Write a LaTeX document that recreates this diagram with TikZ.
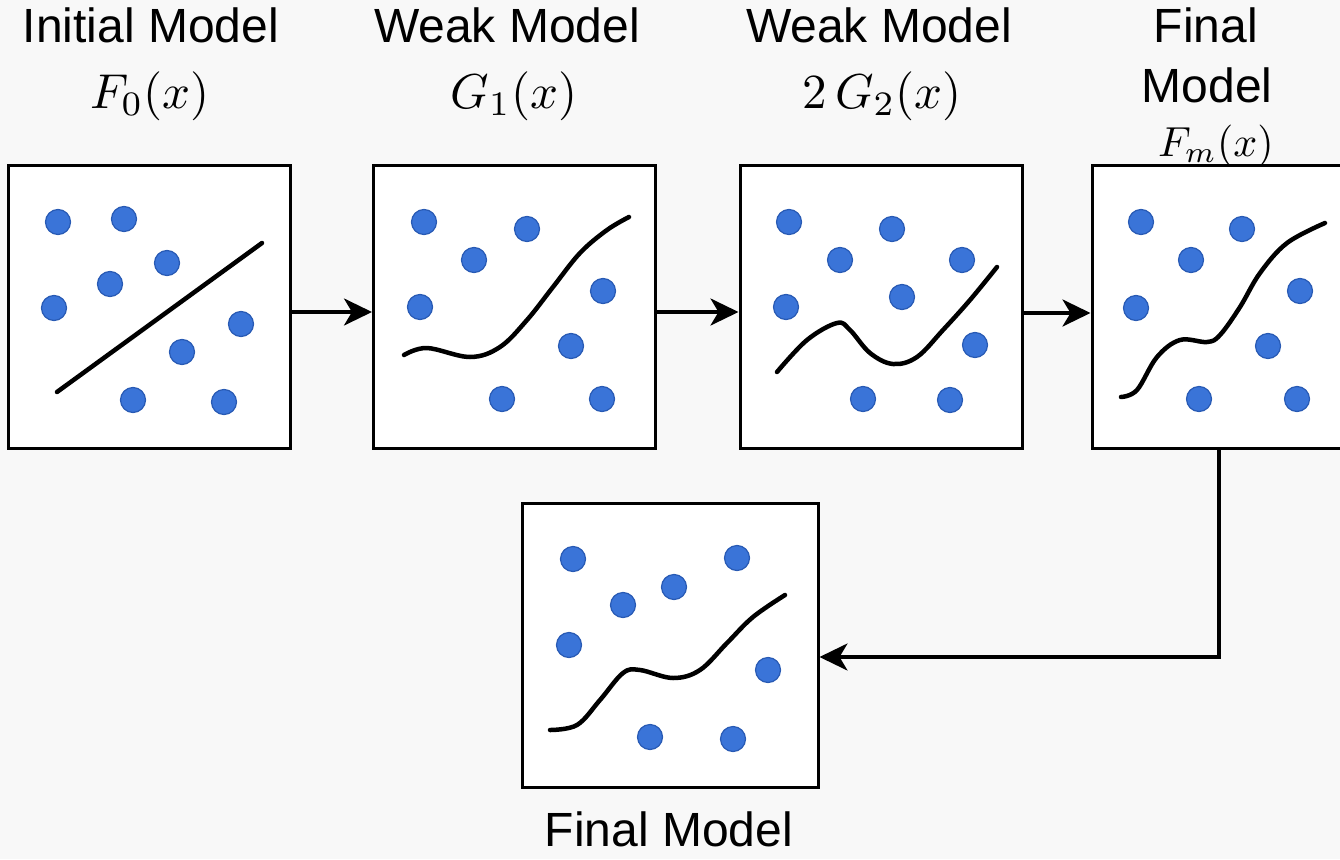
\documentclass[tikz,border=0pt]{standalone}
\usepackage{fontspec}
\newfontfamily\lab{Liberation Sans}
\usetikzlibrary{arrows.meta}
\definecolor{dotfill}{RGB}{58,116,216}
\definecolor{dotline}{RGB}{40,90,180}
\definecolor{bg}{RGB}{248,248,248}
\tikzset{
  panel/.style={draw=black,line width=3pt,fill=white,minimum width=282pt,minimum height=283pt,inner sep=0pt},
  lbl/.style={anchor=base,inner sep=0pt,font=\lab\fontsize{48}{58}\selectfont},
  mlbl/.style={anchor=base,inner sep=0pt},
  arr/.style={line width=3.5pt,-{Stealth[length=28pt,width=27pt,inset=8pt]}},
  pt/.style={fill=dotfill,draw=dotline,line width=1.2pt},
  fitline/.style={line width=4.5pt,line cap=round,line join=round}
}
\newcommand{\dotset}[1]{\foreach \p in {#1} {\fill[pt] \p circle (12.5);}}
\newcommand{\mathlbl}[2]{\scalebox{#1}{$#2$}}
\begin{document}
\begin{tikzpicture}[x=1pt,y=-1pt]
\useasboundingbox (0,0) rectangle (1340,859);
\clip (0,0) rectangle (1340,859);
\fill[bg] (0,0) rectangle (1340,859);

% labels
\node[lbl] (t1) at (151,43) {Initial Model};
\node[mlbl] (m1) at (150,108) {\mathlbl{4.9}{F_0(x)}};
\node[lbl] (t2) at (507,43) {Weak Model};
\node[mlbl] (m2) at (514,108) {\mathlbl{4.9}{G_1(x)}};
\node[lbl] (t3) at (879,43) {Weak Model};
\node[mlbl] (m3) at (882,108) {\mathlbl{4.9}{2\,G_2(x)}};
\node[lbl] (t4) at (1206,43) {Final};
\node[lbl] (t4b) at (1207,102) {Model};
\node[mlbl] (m4) at (1216,156) {\mathlbl{4.2}{F_m(x)}};
\node[lbl] (t5) at (669,846) {Final Model};

% panels
\node[panel] (b1) at (149,306.5) {};
\node[panel] (b2) at (514.5,306.5) {};
\node[panel] (b3) at (881,306.5) {};
\node[panel] (b4) at (1233,306.5) {};
\node[panel,minimum width=296pt,minimum height=284pt] (b5) at (670,645) {};

% panel 1
\dotset{(58,222),(124,219),(167,263),(110,284),(54,308),(241,324),(182,352),(133,400),(224,402)}
\draw[fitline] (57,392) -- (262,243);

% panel 2
\dotset{(424,222),(527,229),(474,260),(420,307),(603,291),(571,346),(502,399),(602,399)}
\draw[fitline] plot[smooth,tension=0.6] coordinates {(404,355) (427,348) (470,357) (500,347) (527,320) (553,287) (580,253) (607,230) (629,217)};

% panel 3
\dotset{(789,222),(892,229),(840,260),(962,260),(786,307),(902,297),(975,345),(863,399),(950,400)}
\draw[fitline] plot[smooth,tension=0.6] coordinates {(777,372) (807,340) (837,323) (850,330) (870,353) (893,364) (917,357) (943,330) (970,300) (997,267)};

% panel 4
\dotset{(1141,222),(1242,229),(1191,260),(1136,308),(1300,291),(1268,346),(1199,399),(1297,399)}
\draw[fitline] plot[smooth,tension=0.6] coordinates {(1121,397) (1137,390) (1157,357) (1180,340) (1207,342) (1220,335) (1240,307) (1260,273) (1287,243) (1325,223)};

% panel 5
\dotset{(573,559),(737,558),(674,587),(623,605),(569,645),(768,670),(650,737),(733,739)}
\draw[fitline] plot[smooth,tension=0.6] coordinates {(550,730) (577,725) (600,700) (623,673) (640,670) (673,678) (700,670) (727,643) (753,617) (785,595)};

% connectors
\draw[arr] ([yshift=-5.5pt]b1.east) -- ([yshift=-5.5pt]b2.west);
\draw[arr] ([yshift=-5.5pt]b2.east) -- ([yshift=-5.5pt]b3.west);
\draw[arr] ([yshift=-6.5pt]b3.east) -- ([yshift=-6.5pt]b4.west);
\coordinate (c) at (1219,657);
\draw[arr] (b4.south -| c) -- (c) -- (b5.east |- c);
\end{tikzpicture}
\end{document}
